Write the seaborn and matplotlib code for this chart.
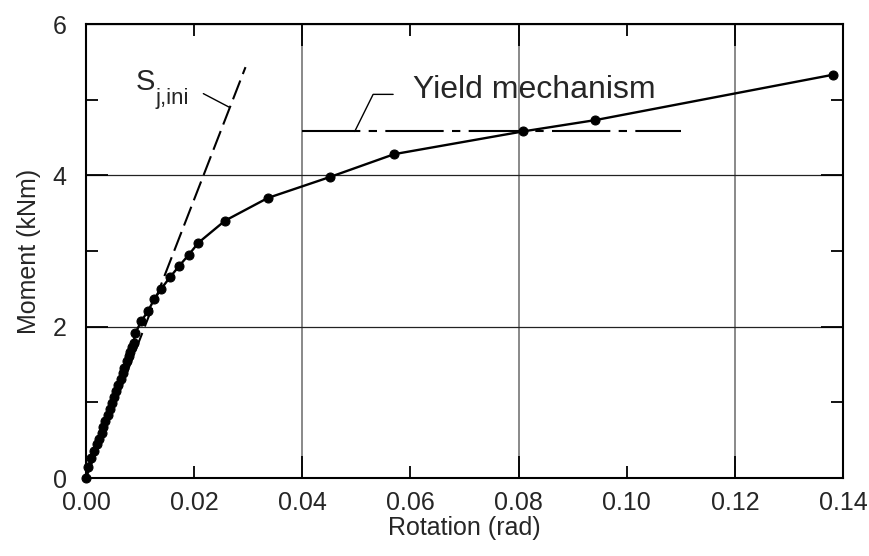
import matplotlib
matplotlib.use("Agg")
import matplotlib.pyplot as plt
import seaborn as sns
import numpy as np
import pandas as pd

# ---- data ----
rotation = [0.0, 0.0004, 0.0009, 0.0015, 0.0020, 0.0024, 0.0029, 0.0032, 0.0036,
            0.0040, 0.0044, 0.0048, 0.0052, 0.0056, 0.0060, 0.0064, 0.0068,
            0.0071, 0.0075, 0.0079, 0.0082, 0.0085, 0.0088, 0.0091, 0.0102,
            0.0115, 0.0126, 0.0139, 0.0155, 0.0172, 0.0190, 0.0208, 0.0257,
            0.0336, 0.0452, 0.0570, 0.0808, 0.0942, 0.1382]
moment = [0.0, 0.14, 0.26, 0.36, 0.45, 0.52, 0.60, 0.67, 0.75,
          0.83, 0.91, 0.99, 1.07, 1.15, 1.23, 1.31, 1.39,
          1.46, 1.54, 1.61, 1.67, 1.73, 1.79, 1.91, 2.07,
          2.21, 2.36, 2.50, 2.65, 2.80, 2.95, 3.11, 3.40,
          3.70, 3.98, 4.28, 4.58, 4.73, 5.33]

sj_rot = [0.0, 0.0295]          # initial stiffness line S_j,ini
sj_mom = [0.0, 5.43]
yield_rot = [0.040, 0.110]      # yield mechanism level
yield_mom = [4.58, 4.58]

x_ticks = [0.00, 0.02, 0.04, 0.06, 0.08, 0.10, 0.12, 0.14]
x_grid = [0.04, 0.08, 0.12]
y_ticks = [0, 2, 4, 6]
y_minor = [1, 3, 5]

sns.set_theme(style="white")
plt.rcParams["font.family"] = ["Liberation Sans", "DejaVu Sans"]
plt.rcParams["lines.scale_dashes"] = False

fig = plt.figure(figsize=(8.7, 5.56), dpi=100)
ax = fig.add_axes([86 / 870, 1 - 478 / 556, (843 - 86) / 870, (478 - 24) / 556])

df = pd.DataFrame({"Rotation": rotation, "Moment": moment})
sns.lineplot(data=df, x="Rotation", y="Moment", sort=False, ax=ax,
             color="black", lw=1.7, marker="o", markersize=6.5,
             markeredgecolor="black", markerfacecolor="black", clip_on=False, zorder=5)

ax.plot(sj_rot, sj_mom, color="black", lw=1.5, dashes=[14.5, 5.0], zorder=4)
ax.plot(yield_rot, yield_mom, color="black", lw=1.5, dashes=[42, 6, 6, 6], zorder=4)

# leader lines and annotations
ax.plot([0.0497, 0.0531, 0.0568], [4.58, 5.07, 5.07], color="black", lw=1.0)
ax.text(0.0605, 5.02, "Yield mechanism", fontsize=23, ha="left", va="baseline")
ax.plot([0.0217, 0.0265], [5.08, 4.90], color="black", lw=1.0)
s_txt = ax.text(0.0091, 5.13, "S", fontsize=21, ha="left", va="baseline")
ax.annotate("j,ini", xy=(1, 0), xycoords=s_txt, xytext=(0.5, -6),
            textcoords="offset points", fontsize=16, ha="left", va="baseline")

ax.set_xlim(0, 0.14)
ax.set_ylim(0, 6)
ax.xaxis.remove_overlapping_locs = False
ax.yaxis.remove_overlapping_locs = False
ax.set_xticks(x_ticks)
ax.set_xticklabels([f"{v:.2f}" for v in x_ticks])
ax.set_xticks(x_grid, minor=True)
ax.set_yticks(y_ticks)
ax.set_yticklabels([str(v) for v in y_ticks])
ax.set_yticks(y_minor, minor=True)

ax.tick_params(axis="x", which="major", direction="in", length=8.5, width=1.3,
               top=True, bottom=True, labelsize=18, pad=9, color="black")
ax.tick_params(axis="x", which="minor", direction="in", length=16, width=1.3,
               top=True, bottom=True, color="black")
ax.tick_params(axis="y", which="major", direction="in", length=16, width=1.3,
               left=True, right=True, labelsize=18, pad=14, color="black")
ax.tick_params(axis="y", which="minor", direction="in", length=8.5, width=1.3,
               left=True, right=True, color="black")

ax.grid(False)
ax.xaxis.grid(True, which="minor", color="#808080", lw=1.3)
ax.yaxis.grid(True, which="major", color="#222222", lw=0.9)
ax.set_axisbelow(True)

for s in ax.spines.values():
    s.set_color("black")
    s.set_linewidth(1.5)

ax.set_xlabel("Rotation (rad)", fontsize=18, labelpad=1)
ax.set_ylabel("Moment (kNm)", fontsize=18, labelpad=8)

fig.savefig("out.png", dpi=100)
